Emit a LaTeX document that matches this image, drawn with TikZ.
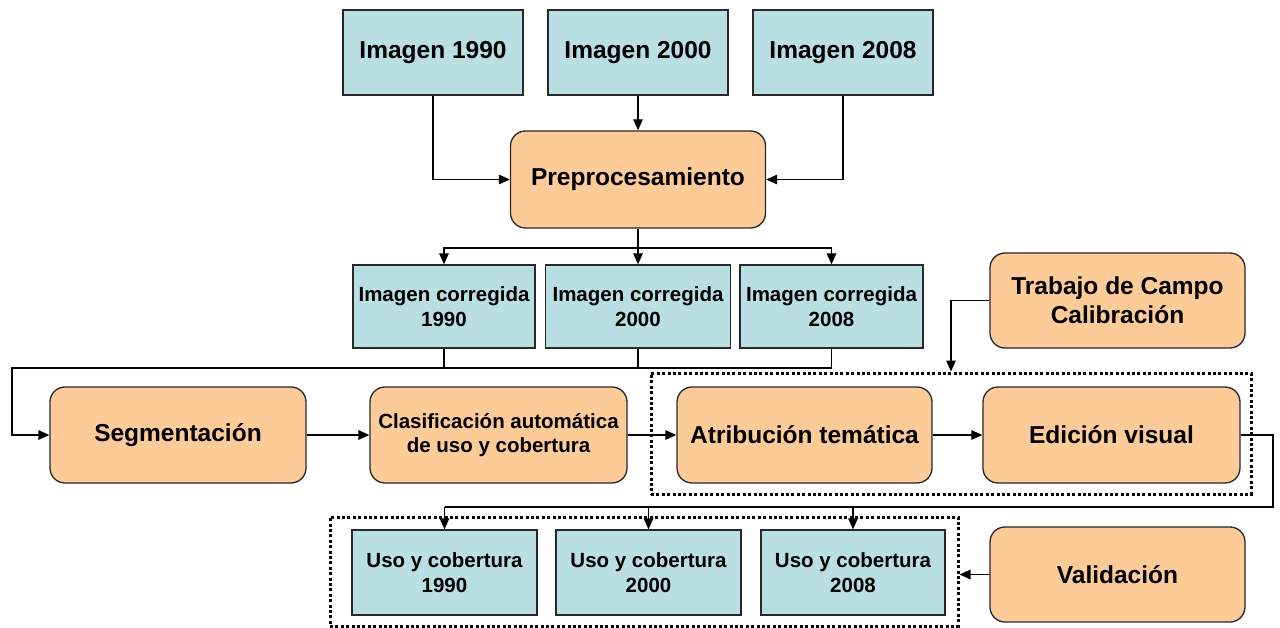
\documentclass[tikz,border=0pt]{standalone}
\usepackage{fontspec}
\setmainfont{Liberation Sans}
\usetikzlibrary{arrows.meta}
\definecolor{imgfill}{RGB}{185,223,226}
\definecolor{procfill}{RGB}{253,203,152}
\definecolor{edge}{RGB}{40,40,40}
\tikzset{
  base/.style={draw=edge, line width=1.3pt, align=center, inner sep=0pt,
    font=\bfseries},
  imgbox/.style={base, rectangle, fill=imgfill},
  procbox/.style={base, rectangle, rounded corners=15pt, fill=procfill},
  big/.style={font=\fontsize{24.5}{29}\selectfont\bfseries},
  small/.style={font=\fontsize{20.5}{24.5}\selectfont\bfseries},
  groupbox/.style={draw=black, line width=3pt, dash pattern=on 3pt off 2.4pt,
    rectangle, inner sep=0pt},
  arr/.style={draw=black, line width=1.3pt, -{Triangle[length=11pt,width=9.5pt]}},
  ln/.style={draw=black, line width=1.3pt},
}
\begin{document}
\begin{tikzpicture}[x=1pt,y=-1pt]
\useasboundingbox (0,0) rectangle (1280,628);

% input images
\node[imgbox, big, minimum width=180pt, minimum height=85pt] (i1) at (433,52.5) {Imagen 1990};
\node[imgbox, big, minimum width=180pt, minimum height=85pt] (i2) at (638,52.5) {Imagen 2000};
\node[imgbox, big, minimum width=180pt, minimum height=85pt] (i3) at (843,52.5) {Imagen 2008};

% preprocessing
\node[procbox, big, minimum width=255pt, minimum height=97pt] (pre) at (638,179.5) {Preprocesamiento};

% corrected images
\node[imgbox, small, minimum width=182pt, minimum height=83pt] (c1) at (444,306.5) {Imagen corregida\\1990};
\node[imgbox, small, minimum width=185pt, minimum height=83pt] (c2) at (638,306.5) {Imagen corregida\\2000};
\node[imgbox, small, minimum width=183pt, minimum height=83pt] (c3) at (831.5,306.5) {Imagen corregida\\2008};

% field work
\node[procbox, big, minimum width=255pt, minimum height=95pt] (tc) at (1117.5,300.5) {Trabajo de Campo\\Calibración};

% processing chain
\node[procbox, big, minimum width=256pt, minimum height=96pt] (seg) at (178,435) {Segmentación};
\node[procbox, small, minimum width=257pt, minimum height=96pt] (cla) at (498.5,435) {Clasificación automática\\de uso y cobertura};
\node[procbox, big, minimum width=255pt, minimum height=96pt] (atr) at (804.5,435) {Atribución temática};
\node[procbox, big, minimum width=257pt, minimum height=96pt] (edi) at (1111.5,435) {Edición visual};
\node[groupbox, minimum width=600pt, minimum height=121pt] (g1) at (951,433.5) {};

% outputs
\node[imgbox, small, minimum width=185pt, minimum height=85pt] (u1) at (444.5,572.5) {Uso y cobertura\\1990};
\node[imgbox, small, minimum width=185pt, minimum height=85pt] (u2) at (648.5,572.5) {Uso y cobertura\\2000};
\node[imgbox, small, minimum width=184pt, minimum height=85pt] (u3) at (853,572.5) {Uso y cobertura\\2008};
\node[groupbox, minimum width=628pt, minimum height=109pt] (g2) at (644,571.5) {};

% validation
\node[procbox, big, minimum width=255pt, minimum height=95pt] (val) at (1117.5,574.5) {Validación};

% images -> preprocessing
\draw[arr] (i1.south) |- (pre.west);
\draw[arr] (i2.south) -- (pre.north);
\draw[arr] (i3.south) |- (pre.east);

% preprocessing -> corrected images
\coordinate (split) at (638,248);
\draw[ln] (pre.south) -- (split);
\draw[arr] (split) -| (c1.north);
\draw[arr] (split) -- (c2.north);
\draw[arr] (split) -| (c3.north);

% corrected images -> segmentation
\coordinate (jl) at (12,368);
\draw[arr] (c3.south) |- (jl) |- (seg.west);
\draw[ln] (c1.south) -- (c1.south |- jl);
\draw[ln] (c2.south) -- (c2.south |- jl);

% chain
\draw[arr] (seg.east) -- (cla.west);
\draw[arr] (cla.east) -- (atr.west);
\draw[arr] (atr.east) -- (edi.west);

% field work -> thematic group
\draw[arr] (tc.west) -| (g1.north);

% edition -> outputs
\coordinate (er) at (1273,507);
\draw[ln] (edi.east) -| (er) -- (u1.north |- er);
\draw[arr] (u1.north |- er) -- (u1.north);
\draw[arr] (u2.north |- er) -- (u2.north);
\draw[arr] (u3.north |- er) -- (u3.north);

% validation -> outputs
\draw[arr] (val.west) -- (val.west -| g2.east);
\end{tikzpicture}
\end{document}
